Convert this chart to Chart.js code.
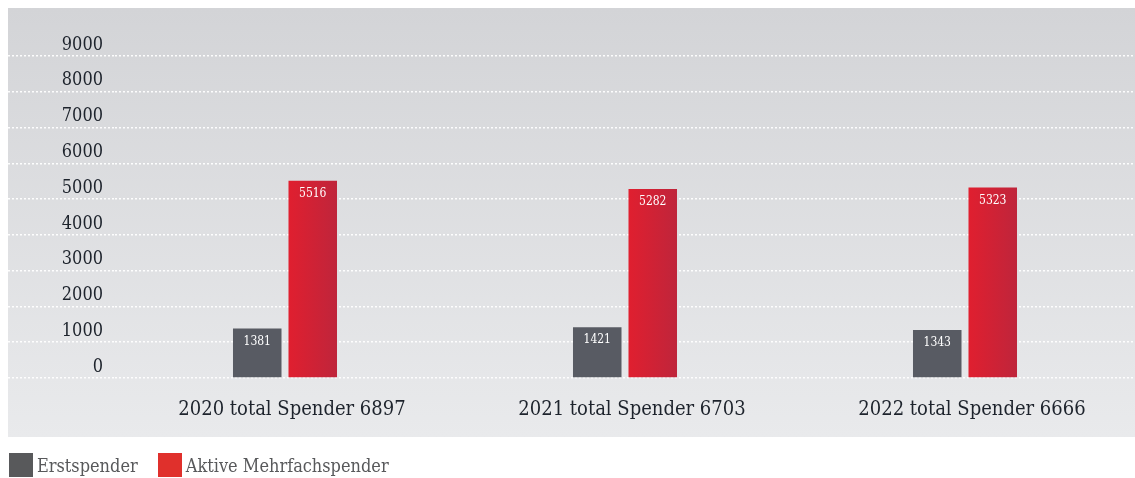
<!DOCTYPE html>
<html>
<head>
<meta charset="utf-8">
<script src="https://cdn.jsdelivr.net/npm/chart.js@4/dist/chart.umd.min.js"></script>
<style>
  html, body { margin: 0; padding: 0; background: #fff; }
  #wrap { position: relative; width: 1135px; height: 478px; }
  #legend { position: absolute; left: 9px; top: 453px; display: flex; align-items: center;
    font-family: 'DejaVu Serif Condensed', 'DejaVu Serif', serif; font-size: 18px; color: #58595b; }
  #legend span.box { display: inline-block; width: 24px; height: 24px; margin-right: 4px; }
  #legend .item { display: flex; align-items: center; margin-right: 20px; }
</style>
</head>
<body>
<div id="wrap">
  <canvas id="spenderChart" width="1135" height="478"></canvas>
  <div id="legend"></div>
</div>
<script>
/* Spender per Jahr — Erstspender vs. aktive Mehrfachspender */

const years = ['2020', '2021', '2022'];
const totals = [6897, 6703, 6666];
const erstspender = [1381, 1421, 1343];
const mehrfachspender = [5516, 5282, 5323];
const seriesNames = ['Erstspender', 'Aktive Mehrfachspender'];
const yMin = 0, yMax = 9000, yStep = 1000;

const FONT = "'DejaVu Serif Condensed', 'DejaVu Serif', serif";
const grey = '#585b63';
const redLeft = '#e01f2f', redRight = '#bf253b';

Chart.defaults.font.family = FONT;

const panelBg = {
  id: 'panelBg',
  beforeDraw(chart) {
    const c = chart.ctx;
    const g = c.createLinearGradient(0, 8, 0, 437);
    g.addColorStop(0, '#d3d4d7');
    g.addColorStop(1, '#e9eaec');
    c.save();
    c.fillStyle = g;
    c.fillRect(8, 8, chart.width - 8, 429);
    c.restore();
  }
};

const barValues = {
  id: 'barValues',
  afterDatasetsDraw(chart) {
    const c = chart.ctx;
    c.save();
    c.fillStyle = '#ffffff';
    c.font = '12px ' + FONT;
    c.textAlign = 'center';
    c.textBaseline = 'middle';
    chart.data.datasets.forEach((ds, i) => {
      chart.getDatasetMeta(i).data.forEach((bar, j) => {
        c.fillText(String(ds.data[j]), bar.x, bar.y + 13);
      });
    });
    c.restore();
  }
};

function redGradient(ctx) {
  const bar = ctx.element;
  if (!bar || !bar.width) return redLeft;
  const g = ctx.chart.ctx.createLinearGradient(bar.x - bar.width / 2, 0, bar.x + bar.width / 2, 0);
  g.addColorStop(0, redLeft);
  g.addColorStop(1, redRight);
  return g;
}

const chart = new Chart(document.getElementById('spenderChart'), {
  type: 'bar',
  data: {
    labels: years.map((y, i) => `${y} total Spender ${totals[i]}`),
    datasets: [
      { label: seriesNames[0], data: erstspender, backgroundColor: grey, legendColor: '#58595b' },
      { label: seriesNames[1], data: mehrfachspender, backgroundColor: redGradient, legendColor: '#e0302c' }
    ]
  },
  options: {
    responsive: false,
    animation: false,
    layout: { padding: { left: 8, top: 56, right: 0, bottom: 41 } },
    datasets: { bar: { categoryPercentage: 0.3265, barPercentage: 0.874 } },
    plugins: { legend: { display: false }, tooltip: { enabled: false } },
    scales: {
      x: {
        grid: { display: false },
        border: { display: false },
        ticks: { color: '#1d232c', font: { size: 20 }, padding: 12, labelOffset: 7 },
        afterFit: s => { s.height = 59; }
      },
      y: {
        min: yMin, max: yMax,
        border: { display: false, dash: [2, 2] },
        grid: {
          color: 'rgba(255,255,255,0.95)', lineWidth: 1.5,
          tickLength: 107, tickBorderDash: [2, 2], tickWidth: 1.5
        },
        ticks: {
          stepSize: yStep, color: '#1d232c', font: { size: 18 }, padding: -95, labelOffset: -11,
          callback: v => String(v)
        },
        afterFit: s => { s.width = 107; }
      }
    }
  },
  plugins: [panelBg, barValues]
});
chart.update('none');

document.getElementById('legend').innerHTML = chart.data.datasets.map(ds =>
  `<div class="item"><span class="box" style="background:${ds.legendColor}"></span>${ds.label}</div>`).join('');
</script>
</body>
</html>
